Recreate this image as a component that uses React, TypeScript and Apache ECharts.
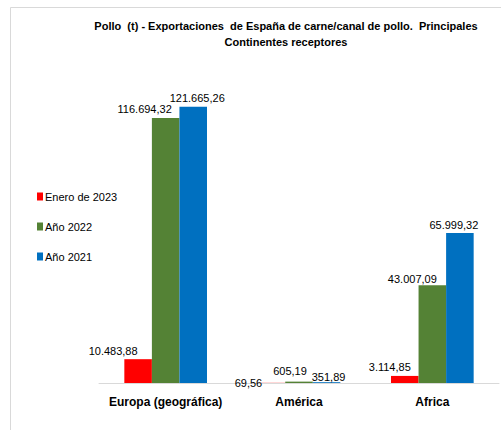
import React, { useEffect, useRef } from "react";
import * as echarts from "echarts";

const categories = ["Europa (geográfica)", "América", "Africa"];
const seriesNames = ["Enero de 2023", "Año 2022", "Año 2021"];
const enero2023 = [10483.88, 69.56, 3114.85];
const ano2022 = [116694.32, 605.19, 43007.09];
const ano2021 = [121665.26, 351.89, 65999.32];
const colors = ["#FF0000", "#548235", "#0070C0"];
// label offsets [dx, dy] per series per category (visual placement only)
const labelOffsets = [
  [[-25, 0], [-23, 9], [-15, 0]],
  [[-21, 0], [-9, -2], [-20, 2]],
  [[4, 0], [2, 3], [-6, 0]],
];

const fmt = (v: number) => {
  const [i, d] = v.toFixed(2).split(".");
  return i.replace(/\B(?=(\d{3})+(?!\d))/g, ".") + "," + d;
};

export default function App() {
  const ref = useRef<HTMLDivElement>(null);
  useEffect(() => {
    const chart = echarts.init(ref.current!, null, { renderer: "svg" });
    const all = [enero2023, ano2022, ano2021];
    chart.setOption({
      animation: false,
      textStyle: { fontFamily: "Liberation Sans" },
      title: {
        text: "Pollo  (t) - Exportaciones  de España de carne/canal de pollo.  Principales\nContinentes receptores",
        left: 281,
        textAlign: "center",
        top: 13,
        textStyle: {
          fontFamily: "Liberation Sans",
          fontSize: 11,
          fontWeight: "bold",
          color: "#000",
          lineHeight: 16,
        },
      },
      legend: {
        orient: "vertical",
        left: 32,
        top: 185,
        itemWidth: 6,
        itemHeight: 8,
        itemGap: 17,
        icon: "rect",
        data: seriesNames,
        textStyle: { fontSize: 11, color: "#000", padding: [0, 0, 0, -3], height: 13, lineHeight: 13 },
      },
      graphic: [
        {
          type: "rect",
          shape: { x: 10.5, y: 7.5, width: 600, height: 600 },
          style: { fill: "none", stroke: "#d9d9d9", lineWidth: 1 },
          silent: true,
        },
      ],
      grid: { left: 99, right: 2, top: 65, bottom: 47 },
      xAxis: {
        type: "category",
        data: categories,
        axisLine: { lineStyle: { color: "#d9d9d9" } },
        axisTick: { show: false },
        axisLabel: { interval: 0, fontSize: 12, fontWeight: "bold", color: "#000", margin: 13 },
      },
      yAxis: {
        type: "value",
        min: 0,
        max: 140000,
        show: false,
        splitLine: { show: false },
      },
      series: all.map((vals, si) => ({
        name: seriesNames[si],
        type: "bar",
        barGap: "0%",
        barCategoryGap: "38%",
        itemStyle: { color: colors[si] },
        data: vals.map((v, ci) => ({
          value: v,
          label: { offset: labelOffsets[si][ci] },
        })),
        label: {
          show: true,
          position: "top",
          distance: 3,
          fontSize: 11,
          color: "#000",
          formatter: (p: any) => fmt(p.value),
        },
      })),
    });
    return () => chart.dispose();
  }, []);
  return <div ref={ref} style={{ width: 501, height: 430, position: "absolute", left: 0, top: 0 }} />;
}
